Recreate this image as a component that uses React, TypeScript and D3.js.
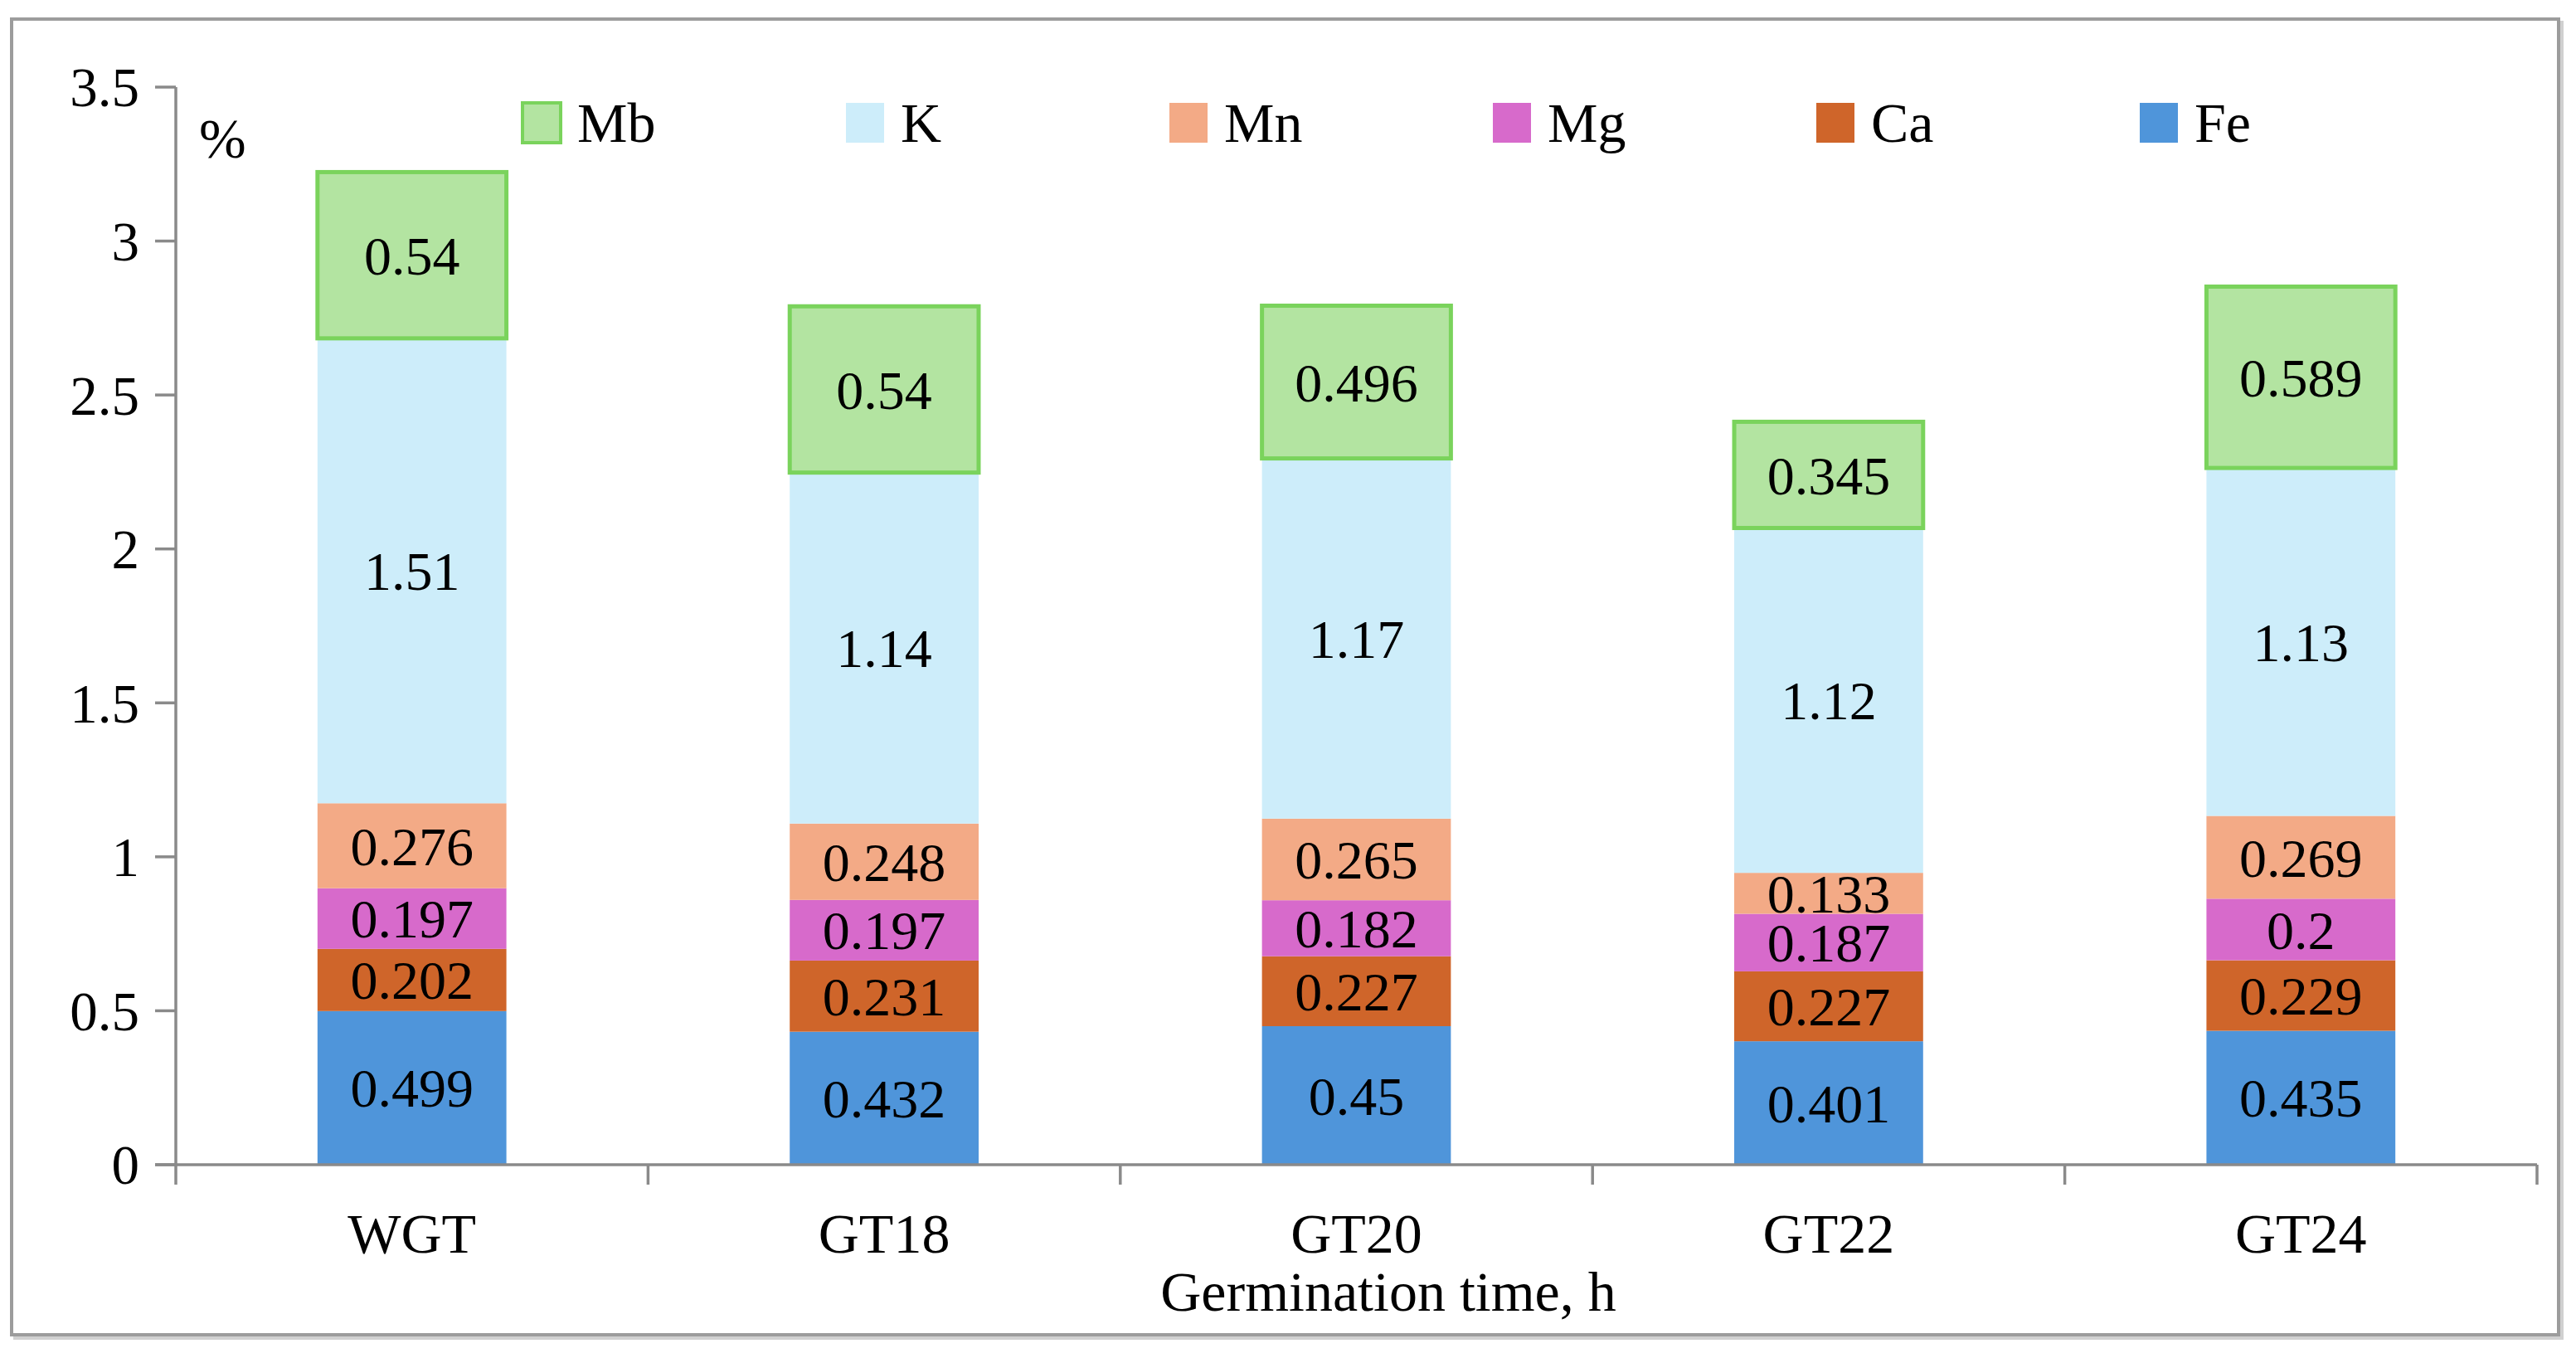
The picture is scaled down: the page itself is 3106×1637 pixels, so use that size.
import * as d3 from "d3";
import { useMemo } from "react";

// germination groups
const categories = ["WGT", "GT18", "GT20", "GT22", "GT24"];

// element contents, % (bottom to top of each stack)
const fe = [0.499, 0.432, 0.45, 0.401, 0.435];
const ca = [0.202, 0.231, 0.227, 0.227, 0.229];
const mg = [0.197, 0.197, 0.182, 0.187, 0.2];
const mn = [0.276, 0.248, 0.265, 0.133, 0.269];
const k = [1.51, 1.14, 1.17, 1.12, 1.13];
const mb = [0.54, 0.54, 0.496, 0.345, 0.589];

const seriesNames = ["Fe", "Ca", "Mg", "Mn", "K", "Mb"];
const seriesValues = [fe, ca, mg, mn, k, mb];
const legendOrder = ["Mb", "K", "Mn", "Mg", "Ca", "Fe"];
const yTicks = [0, 0.5, 1, 1.5, 2, 2.5, 3, 3.5];

const colors: Record<string, string> = {
    Fe: "#4f95da",
    Ca: "#cf652a",
    Mg: "#d76acb",
    Mn: "#f3aa86",
    K: "#cdedfa",
    Mb: "#b3e4a1",
};
const mbStroke = "#7ad35c";

const W = 3106;
const H = 1637;
const left = 212;
const right = 3059;
const top = 105;
const bottom = 1404;
const font = "'Liberation Serif', 'Times New Roman', serif";

export default function App() {
    const rows = useMemo(
        () =>
            categories.map((c, i) => {
                const row: Record<string, any> = { cat: c };
                seriesNames.forEach((s, j) => (row[s] = seriesValues[j][i]));
                return row;
            }),
        []
    );

    const stacked = d3.stack<any>().keys(seriesNames)(rows);

    const xScale = d3
        .scaleBand()
        .domain(categories)
        .range([left, right])
        .paddingInner(0.6)
        .paddingOuter(0.3);
    const step = xScale.step();

    const yScale = d3.scaleLinear().domain([0, 3.5]).range([bottom, top]);

    const axisColor = "#8a8a8a";

    return (
        <svg
            width={W}
            height={H}
            style={{ position: "absolute", left: 0, top: 0, background: "#fff" }}
        >
            {/* frame with light shadow */}
            <rect x={18} y={27} width={3071} height={1586} fill="none" stroke="#d0d0d0" strokeWidth={4} />
            <rect x={14} y={23} width={3071} height={1586} fill="#fff" stroke="#9c9c9c" strokeWidth={4} />

            {/* bars */}
            {stacked.map((layer) => (
                <g key={layer.key}>
                    {layer.map((d, i) => {
                        const x = xScale(categories[i]) || 0;
                        const y0 = yScale(d[0]);
                        const y1 = yScale(d[1]);
                        const isMb = layer.key === "Mb";
                        return (
                            <g key={i}>
                                <rect
                                    x={x}
                                    y={y1}
                                    width={xScale.bandwidth()}
                                    height={y0 - y1}
                                    fill={colors[layer.key]}
                                    stroke={isMb ? mbStroke : "none"}
                                    strokeWidth={isMb ? 5 : 0}
                                />
                                <text
                                    x={x + xScale.bandwidth() / 2}
                                    y={(y0 + y1) / 2}
                                    dy="0.35em"
                                    textAnchor="middle"
                                    fontFamily={font}
                                    fontSize={66}
                                    fill="#000"
                                >
                                    {String(seriesValues[seriesNames.indexOf(layer.key)][i])}
                                </text>
                            </g>
                        );
                    })}
                </g>
            ))}

            {/* y axis */}
            <line x1={left} x2={left} y1={yScale(3.5)} y2={bottom + 24} stroke={axisColor} strokeWidth={3.5} />
            {yTicks.map((t) => (
                <g key={t}>
                    <line x1={left - 25} x2={left} y1={yScale(t)} y2={yScale(t)} stroke={axisColor} strokeWidth={3.5} />
                    <text
                        x={168}
                        y={yScale(t)}
                        dy="0.35em"
                        textAnchor="end"
                        fontFamily={font}
                        fontSize={67}
                        fill="#000"
                    >
                        {t}
                    </text>
                </g>
            ))}

            {/* x axis */}
            <line x1={left - 25} x2={right} y1={bottom} y2={bottom} stroke={axisColor} strokeWidth={3.5} />
            {categories.map((c, i) => (
                <line
                    key={"sep" + c}
                    x1={left + step * (i + 1)}
                    x2={left + step * (i + 1)}
                    y1={bottom}
                    y2={bottom + 24}
                    stroke={axisColor}
                    strokeWidth={3.5}
                />
            ))}
            {categories.map((c) => (
                <text
                    key={c}
                    x={(xScale(c) || 0) + xScale.bandwidth() / 2}
                    y={1510}
                    textAnchor="middle"
                    fontFamily={font}
                    fontSize={68}
                    fill="#000"
                >
                    {c}
                </text>
            ))}
            <text x={1674} y={1580} textAnchor="middle" fontFamily={font} fontSize={68} fill="#000">
                Germination time, h
            </text>

            {/* unit */}
            <text x={240} y={190} fontFamily={font} fontSize={68} fill="#000">
                %
            </text>

            {/* legend */}
            {legendOrder.map((name, i) => {
                const lx = 630 + i * 390;
                return (
                    <g key={name}>
                        <rect
                            x={lx}
                            y={124}
                            width={46}
                            height={48}
                            fill={colors[name]}
                            stroke={name === "Mb" ? mbStroke : "none"}
                            strokeWidth={name === "Mb" ? 4 : 0}
                        />
                        <text x={lx + 66} y={171} fontFamily={font} fontSize={68} fill="#000">
                            {name}
                        </text>
                    </g>
                );
            })}
        </svg>
    );
}
